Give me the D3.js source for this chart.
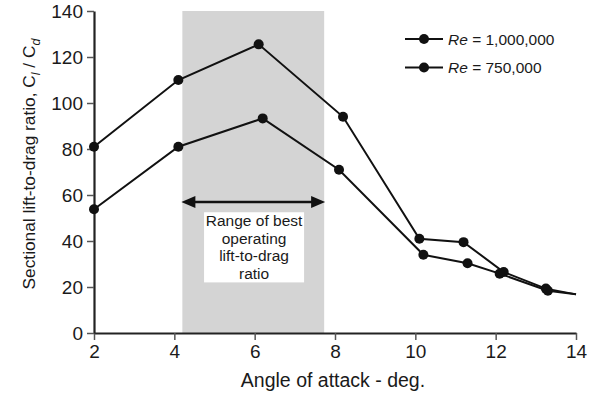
<!DOCTYPE html>
<html>
<head>
<meta charset="utf-8">
<script src="https://cdn.jsdelivr.net/npm/d3@7"></script>
<style>
  body { margin: 0; background: #fff; }
  svg { display: block; font-family: "Liberation Sans", Arial, sans-serif; }
</style>
</head>
<body>
<svg id="draw"></svg>
<script>
// angle of attack (deg) and L/D values
var angleHigh = [2, 4.1, 6.1, 8.2, 10.1, 11.2, 12.2, 13.25, 14];
var ratioHigh = [81, 110, 125.5, 94, 41, 39.5, 26.5, 19.3, 16.8];
var angleLow = [2, 4.1, 6.2, 8.1, 10.2, 11.3, 12.1, 13.3, 14];
var ratioLow = [53.8, 81, 93.3, 71, 34, 30.3, 25.8, 18.4, 16.8];
var seriesNames = ["1,000,000", "750,000"];
var bestRange = [4.2, 7.73];
var xTicks = [2, 4, 6, 8, 10, 12, 14];
var yTicks = [0, 20, 40, 60, 80, 100, 120, 140];

var W = 591, H = 395;
var margin = {top: 11, right: 15, bottom: 62, left: 94};
var width = W - margin.left - margin.right;
var height = H - margin.top - margin.bottom;

var svg = d3.select("#draw").attr("width", W).attr("height", H);

var x = d3.scaleLinear().domain([2, 14]).range([0, width]);
var y = d3.scaleLinear().domain([0, 140]).range([height, 0]);

var g = svg.append("g")
  .attr("transform", "translate(" + margin.left + "," + margin.top + ")");

// shaded band
g.append("rect")
  .attr("x", x(bestRange[0]))
  .attr("y", y(140))
  .attr("width", x(bestRange[1]) - x(bestRange[0]))
  .attr("height", y(0) - y(140))
  .attr("fill", "#d4d4d4");

// double arrow
var arrowY = y(57);
g.append("line")
  .attr("x1", x(bestRange[0]) + 8).attr("x2", x(bestRange[1]) - 8)
  .attr("y1", arrowY).attr("y2", arrowY)
  .attr("stroke", "#111").attr("stroke-width", 2.5);
[[bestRange[0], 1], [bestRange[1], -1]].forEach(function(a) {
  var tip = x(a[0]) - a[1] * 1;
  g.append("path")
    .attr("d", "M" + tip + "," + arrowY +
      "L" + (tip + a[1] * 14) + "," + (arrowY - 6) +
      "L" + (tip + a[1] * 14) + "," + (arrowY + 6) + "Z")
    .attr("fill", "#111");
});

// white label box
var boxL = x(4.74), boxR = x(7.23);
g.append("rect")
  .attr("x", boxL).attr("y", y(52.5))
  .attr("width", boxR - boxL).attr("height", y(22) - y(52.5))
  .attr("fill", "#fff");
var boxText = ["Range of best", "operating", "lift-to-drag", "ratio"];
g.selectAll(".boxtxt").data(boxText).enter().append("text")
  .attr("class", "boxtxt")
  .attr("x", (boxL + boxR) / 2)
  .attr("y", function(d, i) { return y(52.5) + 14 + i * 17.5; })
  .attr("text-anchor", "middle")
  .attr("font-size", 15.5)
  .attr("fill", "#1a1a1a")
  .text(function(d) { return d; });

// axes
var xAxis = g.append("g")
  .attr("transform", "translate(0," + height + ")")
  .call(d3.axisBottom(x).tickValues(xTicks).tickSize(7).tickSizeOuter(0).tickPadding(5));
var yAxis = g.append("g")
  .call(d3.axisLeft(y).tickValues(yTicks).tickSize(7).tickSizeOuter(0).tickPadding(4));
[xAxis, yAxis].forEach(function(ax) {
  ax.select(".domain").attr("stroke", "#222").attr("stroke-width", 2.2);
  ax.selectAll(".tick line").attr("stroke", "#555").attr("stroke-width", 1.5);
  ax.selectAll(".tick text")
    .attr("font-size", 19)
    .attr("fill", "#1a1a1a")
    .attr("font-family", "Liberation Sans, Arial, sans-serif");
});

// series
var lineGen = d3.line()
  .x(function(d) { return x(d[0]); })
  .y(function(d) { return y(d[1]); });
var series = [
  d3.zip(angleHigh, ratioHigh),
  d3.zip(angleLow, ratioLow)
];
series.forEach(function(pts) {
  g.append("path")
    .datum(pts)
    .attr("d", lineGen)
    .attr("fill", "none")
    .attr("stroke", "#111")
    .attr("stroke-width", 2);
  // last point is the line end, no marker there
  g.selectAll(null).data(pts.slice(0, -1)).enter().append("circle")
    .attr("cx", function(d) { return x(d[0]); })
    .attr("cy", function(d) { return y(d[1]); })
    .attr("r", 5)
    .attr("fill", "#111");
});

// legend
var legend = svg.append("g");
seriesNames.forEach(function(name, i) {
  var ly = 39 + i * 28.5;
  legend.append("line")
    .attr("x1", 405).attr("x2", 443).attr("y1", ly).attr("y2", ly)
    .attr("stroke", "#111").attr("stroke-width", 2);
  legend.append("circle")
    .attr("cx", 424).attr("cy", ly).attr("r", 5).attr("fill", "#111");
  var t = legend.append("text")
    .attr("x", 448).attr("y", ly + 5.5)
    .attr("font-size", 15.5)
    .attr("fill", "#1a1a1a");
  t.append("tspan").attr("font-style", "italic").text("Re");
  t.append("tspan").text(" = " + name);
});

// axis titles
svg.append("text")
  .attr("x", margin.left + x(7.95))
  .attr("y", 387)
  .attr("text-anchor", "middle")
  .attr("font-size", 19.5)
  .attr("fill", "#1a1a1a")
  .text("Angle of attack - deg.");

var yt = svg.append("text")
  .attr("transform", "translate(35,164) rotate(-90)")
  .attr("text-anchor", "middle")
  .attr("font-size", 17.3)
  .attr("fill", "#1a1a1a");
yt.append("tspan").text("Sectional lift-to-drag ratio, C");
yt.append("tspan").attr("font-style", "italic").attr("font-size", 12.5).attr("dy", 5).text("l");
yt.append("tspan").attr("dy", -5).text(" / C");
yt.append("tspan").attr("font-style", "italic").attr("font-size", 12.5).attr("dy", 5).text("d");
</script>
</body>
</html>
